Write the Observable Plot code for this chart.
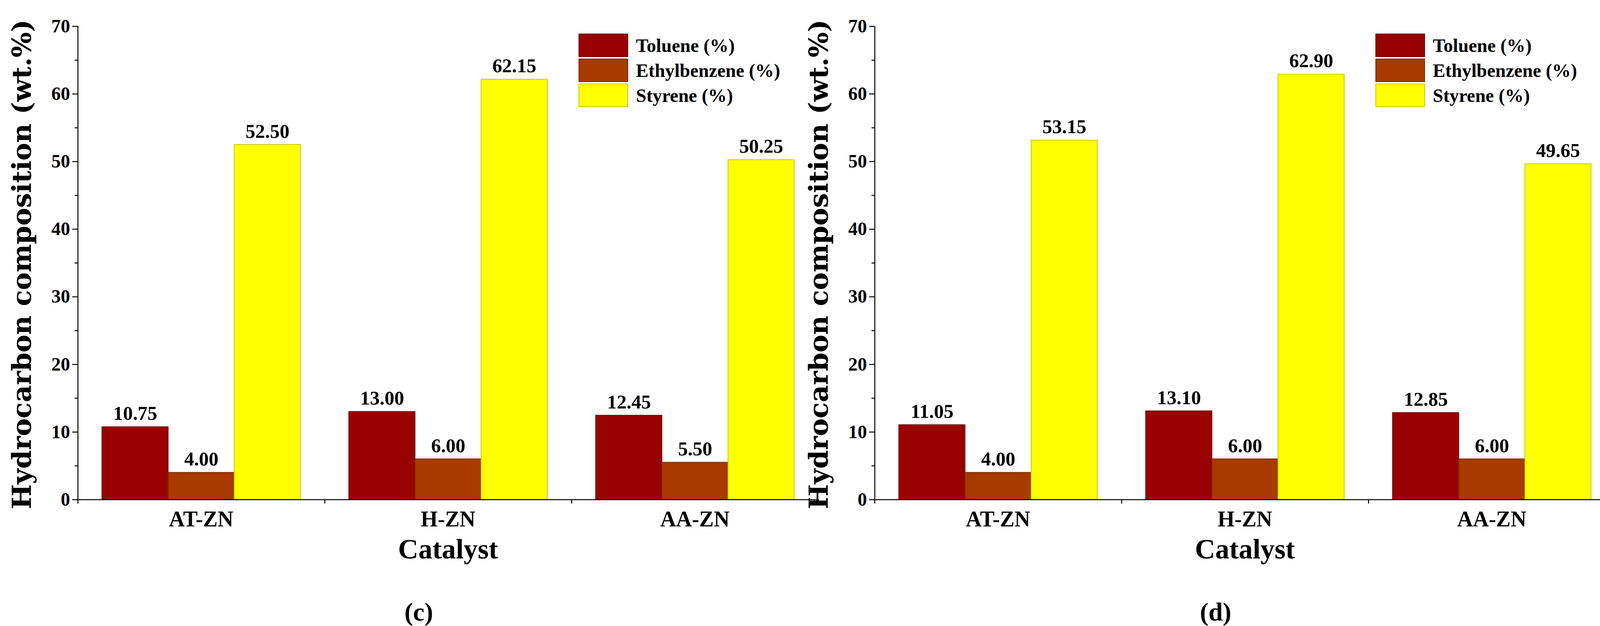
<!DOCTYPE html>
<html><head><meta charset="utf-8">
<script src="https://cdn.jsdelivr.net/npm/d3@7"></script>
<script src="https://cdn.jsdelivr.net/npm/@observablehq/plot@0.6"></script>
<style>
body{margin:0;background:#fff;}
#root{position:relative;width:4261px;height:1603px;font-family:"Liberation Serif",serif;font-weight:bold;color:#000;}
.abs{position:absolute;white-space:nowrap;}
.sw{position:absolute;width:127px;height:60px;box-sizing:border-box;}
</style></head><body><div id="root"></div>
<script>
const categories = ["AT-ZN","H-ZN","AA-ZN"];
const series = ["Toluene (%)","Ethylbenzene (%)","Styrene (%)"];
const colors = ["#990000","#a83a00","#ffff00"];
const strokes = ["#6a0000","#7a2a00","#c8c800"];
const valuesC = [[10.75,4.00,52.50],[13.00,6.00,62.15],[12.45,5.50,50.25]];
const valuesD = [[11.05,4.00,53.15],[13.10,6.00,62.90],[12.85,6.00,49.65]];
const panelLabels = ["(c)","(d)"];
const yTicks = [0,10,20,30,40,50,60,70];
const yMinor = [5,15,25,35,45,55,65];

const W=2130,H=1603,ML=199,MR=35,MT=67,MB=324;
const band=(W-ML-MR)/3, outer=62, bw=(band-2*outer)/3;
const root=document.getElementById("root");

function panel(vals,offset,lab){
  const rows=[];
  categories.forEach((c,i)=>series.forEach((s,j)=>rows.push({cat:c,ser:s,j,v:vals[i][j]})));
  const marks=[];
  series.forEach((s,j)=>{
    const d=rows.filter(r=>r.j===j);
    marks.push(Plot.barY(d,{x:"cat",y:"v",fill:colors[j],stroke:strokes[j],strokeWidth:2,
      insetLeft:outer+bw*j,insetRight:band-outer-bw*(j+1)}));
    marks.push(Plot.text(d,{x:"cat",y:"v",text:d=>d.v.toFixed(2),dx:-band/2+outer+bw*(j+0.5),dy:-34,
      fontSize:50,fontWeight:"bold",fill:"#000"}));
  });
  marks.push(Plot.ruleY([0],{stroke:"#000",strokeWidth:2.5}));
  marks.push(Plot.ruleX([categories[0]],{dx:-band/2,stroke:"#000",strokeWidth:2.5}));
  marks.push(Plot.ruleX(categories,{dx:-band/2,y1:0,y2:-0.6,stroke:"#000",strokeWidth:2.5}));
  marks.push(Plot.ruleX([categories[2]],{dx:band/2,y1:0,y2:-0.6,stroke:"#000",strokeWidth:2.5}));
  marks.push(Plot.axisY(yMinor,{tickSize:8,tickFormat:()=>"",strokeWidth:2.5,anchor:"left",label:null}));
  marks.push(Plot.axisY(yTicks,{tickSize:14,fontSize:48,tickPadding:6,strokeWidth:2.5,anchor:"left",label:null}));
  const p=Plot.plot({width:W,height:H,marginLeft:ML,marginRight:MR,marginTop:MT,marginBottom:MB,
    style:{fontFamily:"Liberation Serif",fontWeight:"bold",overflow:"visible",background:"transparent"},
    x:{domain:categories,padding:0,axis:null},
    y:{domain:[0,70],axis:null},marks});
  p.style.position="absolute";p.style.left=offset+"px";p.style.top="0px";
  root.appendChild(p);
  const add=(html,css)=>{const e=document.createElement("div");e.className="abs";e.innerHTML=html;Object.assign(e.style,css);root.appendChild(e);return e;};
  categories.forEach((c,i)=>add(c,{left:(offset+ML+band*(i+0.5))+"px",top:"1329px",transform:"translate(-50%,-50%)",fontSize:"56px"}));
  add("Catalyst",{left:(offset+ML+band*1.5)+"px",top:"1406px",transform:"translate(-50%,-50%)",fontSize:"72px"});
  add(lab,{left:(offset+1072)+"px",top:"1567px",transform:"translate(-50%,-50%)",fontSize:"66px"});
  add("Hydrocarbon composition (wt.%)",{left:(offset+55)+"px",top:"677px",transform:"translate(-50%,-50%) rotate(-90deg)",fontSize:"68px",fontFamily:"DejaVu Serif"});
  series.forEach((s,j)=>{
    const sw=document.createElement("div");sw.className="sw";
    Object.assign(sw.style,{left:(offset+1481)+"px",top:(86+j*64)+"px",background:colors[j],border:"2px solid "+strokes[j]});
    root.appendChild(sw);
    add(s,{left:(offset+1628)+"px",top:(116+j*64)+"px",transform:"translateY(-50%)",fontSize:"48px"});
  });
}
panel(valuesC,0,panelLabels[0]);
panel(valuesD,2040,panelLabels[1]);
</script></body></html>
